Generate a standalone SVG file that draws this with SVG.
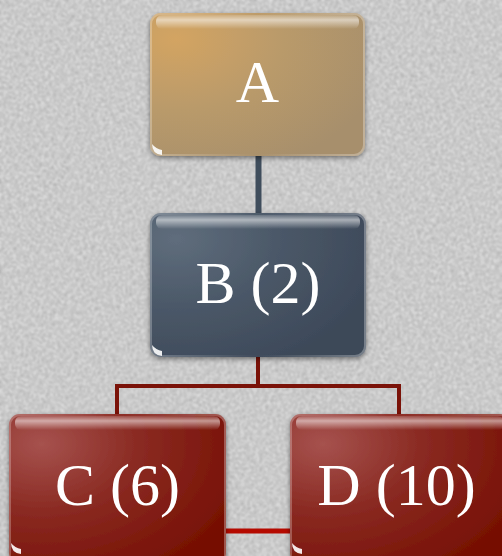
<svg xmlns="http://www.w3.org/2000/svg" width="502" height="556" viewBox="0 0 502 556">
  <defs>
    <!-- soft paper grain for the backdrop -->
    <filter id="paper" x="0" y="0" width="100%" height="100%" color-interpolation-filters="sRGB">
      <feTurbulence type="fractalNoise" baseFrequency="0.5" numOctaves="2" seed="3" result="n"/>
      <feGaussianBlur in="n" stdDeviation="0.8" result="nb"/>
      <feColorMatrix in="nb" type="matrix" values="0 0 0 0 0  0 0 0 0 0  0 0 0 0 0  0.6 0 0 0 -0.15" result="a"/>
      <feComposite in="a" in2="SourceGraphic" operator="in"/>
    </filter>
    <filter id="shadow" x="-10%" y="-10%" width="120%" height="125%">
      <feDropShadow dx="0" dy="2" stdDeviation="2.5" flood-color="#000" flood-opacity="0.45"/>
    </filter>
    <radialGradient id="gGold" cx="0.12" cy="0.18" r="1.0">
      <stop offset="0" stop-color="#d3a462"/>
      <stop offset="0.5" stop-color="#b99a6b"/>
      <stop offset="1" stop-color="#a78f6c"/>
    </radialGradient>
    <radialGradient id="gSlate" cx="0.12" cy="0.18" r="1.0">
      <stop offset="0" stop-color="#5f6d7c"/>
      <stop offset="0.5" stop-color="#4a5767"/>
      <stop offset="1" stop-color="#3c4858"/>
    </radialGradient>
    <radialGradient id="gRed" cx="0.15" cy="0.2" r="1.0">
      <stop offset="0" stop-color="#a6524e"/>
      <stop offset="0.45" stop-color="#8a2a22"/>
      <stop offset="1" stop-color="#760f02"/>
    </radialGradient>
    <linearGradient id="gloss" x1="0" y1="0" x2="0" y2="1">
      <stop offset="0" stop-color="#fff" stop-opacity="0.15"/>
      <stop offset="0.35" stop-color="#fff" stop-opacity="0.55"/>
      <stop offset="1" stop-color="#fff" stop-opacity="0"/>
    </linearGradient>
    <linearGradient id="rim" x1="0" y1="0" x2="1" y2="0">
      <stop offset="0" stop-color="#fff" stop-opacity="0.25"/>
      <stop offset="0.5" stop-color="#fff" stop-opacity="0"/>
      <stop offset="1" stop-color="#fff" stop-opacity="0.3"/>
    </linearGradient>
  </defs>
  <style>
    .box { filter: url(#shadow); }
    .gloss { fill: url(#gloss); }
    .rim { fill: none; stroke: url(#rim); stroke-width: 2; }
    .dot { fill: #fff; opacity: 0.9; }
    .label { font-family: "Liberation Serif", "Times New Roman", serif; font-size: 60px; fill: #fff; text-anchor: middle; }
    .edge-slate { stroke: #3f4d5c; stroke-width: 6; fill: none; }
    .edge-red { stroke: #7a1208; stroke-width: 4; fill: none; }
    .edge-link { stroke: #b50a00; stroke-width: 5; fill: none; }
  </style>

  <!-- backdrop -->
  <rect width="502" height="556" fill="#eeeeee"/>
  <rect width="502" height="556" fill="#cfcfcf" filter="url(#paper)"/>

  <g id="connectors">
    <line class="edge-slate" x1="258.5" y1="150" x2="258.5" y2="218"/>
    <path class="edge-red" d="M258 352 V386 M117 414 V386 H399 V414"/>
    <line class="edge-link" x1="220" y1="531" x2="296" y2="531"/>
  </g>

  <g id="node-A">
    <rect class="box" x="150" y="13" width="215" height="143" rx="11" fill="url(#gGold)"/>
    <rect class="gloss" x="156" y="15" width="203" height="14" rx="6"/>
    <rect class="rim" x="151" y="14" width="213" height="141" rx="10"/>
    <path class="dot" d="M152 144 Q152 154 162 155 L162 150 Q156 149 152 144 Z"/>
    <text class="label" x="257.5" y="102">A</text>
  </g>

  <g id="node-B">
    <rect class="box" x="150" y="213" width="216" height="144" rx="11" fill="url(#gSlate)"/>
    <rect class="gloss" x="156" y="215" width="204" height="14" rx="6"/>
    <rect class="rim" x="151" y="214" width="214" height="142" rx="10"/>
    <path class="dot" d="M152 345 Q152 355 162 356 L162 351 Q156 350 152 345 Z"/>
    <text class="label" x="258" y="303">B (2)</text>
  </g>

  <g id="node-C">
    <rect class="box" x="9" y="414" width="217" height="150" rx="11" fill="url(#gRed)"/>
    <rect class="gloss" x="15" y="416" width="205" height="14" rx="6"/>
    <rect class="rim" x="10" y="415" width="215" height="150" rx="10"/>
    <path class="dot" d="M11 543 Q11 553 21 554 L21 549 Q15 548 11 543 Z"/>
    <text class="label" x="117.5" y="505">C (6)</text>
  </g>

  <g id="node-D">
    <rect class="box" x="290" y="414" width="220" height="150" rx="11" fill="url(#gRed)"/>
    <rect class="gloss" x="296" y="416" width="208" height="14" rx="6"/>
    <rect class="rim" x="291" y="415" width="218" height="150" rx="10"/>
    <path class="dot" d="M292 543 Q292 553 302 554 L302 549 Q296 548 292 543 Z"/>
    <text class="label" x="396.5" y="505">D (10)</text>
  </g>
</svg>
